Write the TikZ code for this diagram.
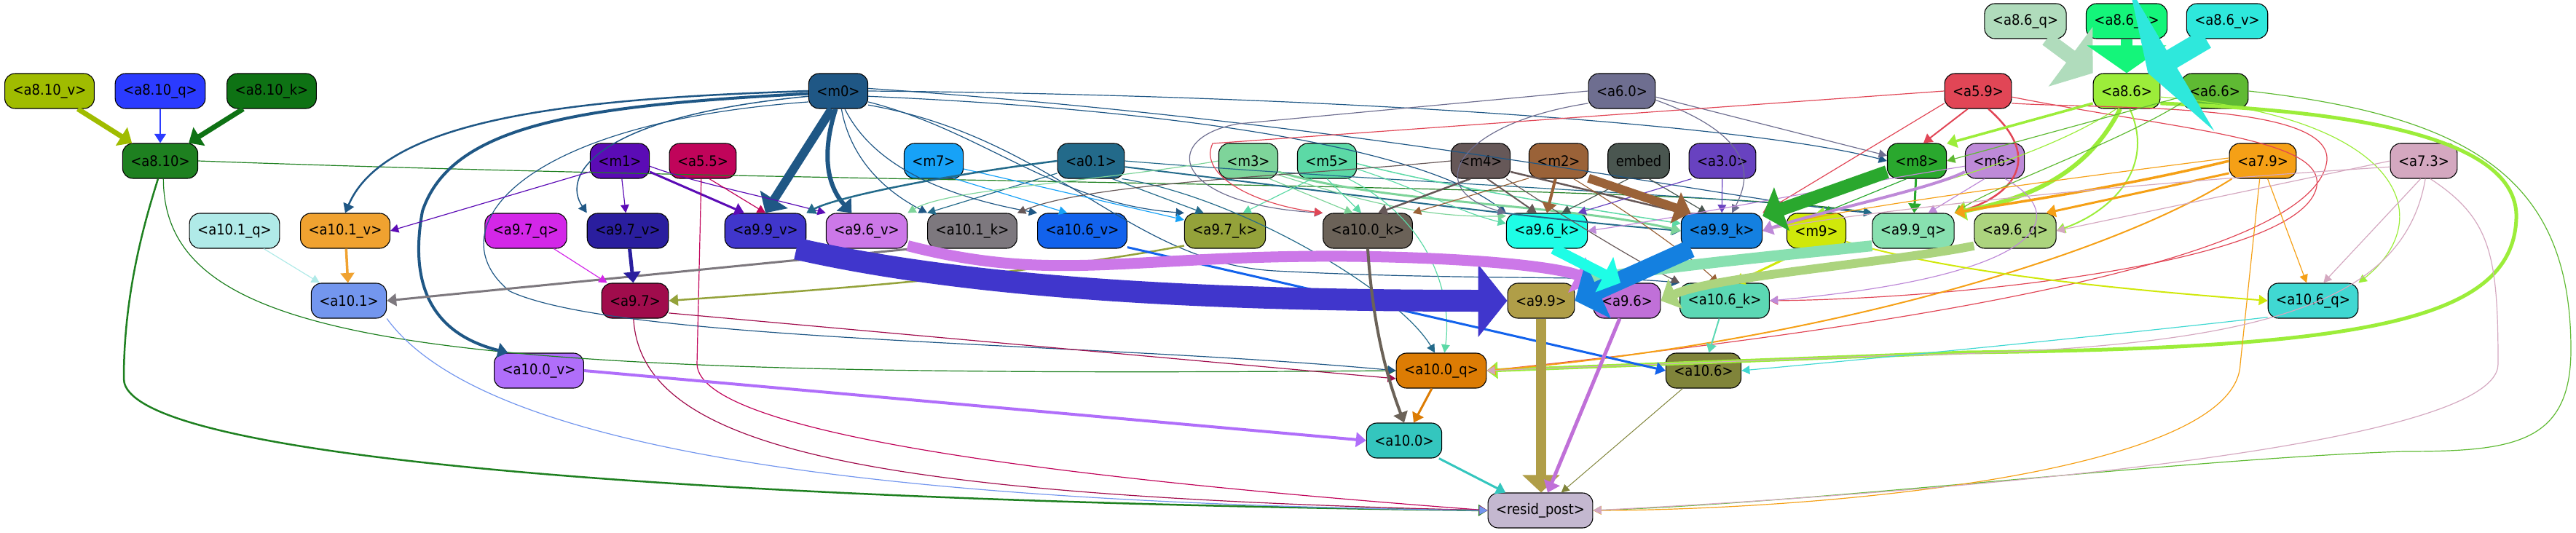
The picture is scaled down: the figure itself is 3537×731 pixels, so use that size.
\documentclass[tikz,border=0pt]{standalone}
\usepackage{fontspec}
\setmainfont{DejaVu Sans Condensed}
\usetikzlibrary{arrows.meta}
\definecolor{ca86q}{HTML}{B0DCBC}
\definecolor{ca86k}{HTML}{14F57A}
\definecolor{ca86v}{HTML}{2EE8DC}
\definecolor{ca810v}{HTML}{A0BC00}
\definecolor{ca810q}{HTML}{2B3BFF}
\definecolor{ca810k}{HTML}{0E7214}
\definecolor{ca810}{HTML}{1E8020}
\definecolor{cm0}{HTML}{1F5785}
\definecolor{ca60}{HTML}{6E6E90}
\definecolor{ca59}{HTML}{E14656}
\definecolor{ca86}{HTML}{9CED3A}
\definecolor{ca66}{HTML}{5FBA33}
\definecolor{cm1}{HTML}{5B0BB5}
\definecolor{ca55}{HTML}{C0045A}
\definecolor{cm7}{HTML}{17A2F7}
\definecolor{ca01}{HTML}{236A8A}
\definecolor{cm3}{HTML}{7ED49A}
\definecolor{cm5}{HTML}{5CD9A6}
\definecolor{cm4}{HTML}{665858}
\definecolor{cm2}{HTML}{9A6238}
\definecolor{cembed}{HTML}{4A5650}
\definecolor{ca30}{HTML}{6842C0}
\definecolor{cm8}{HTML}{2AA82E}
\definecolor{cm6}{HTML}{BE8AD8}
\definecolor{ca79}{HTML}{F5A016}
\definecolor{ca73}{HTML}{D4A8C0}
\definecolor{ca101q}{HTML}{B0EAE8}
\definecolor{ca101v}{HTML}{F0A230}
\definecolor{ca97q}{HTML}{D327E8}
\definecolor{ca97v}{HTML}{2A1E9E}
\definecolor{ca99v}{HTML}{4036CC}
\definecolor{ca96v}{HTML}{CC78E8}
\definecolor{ca101k}{HTML}{7D787E}
\definecolor{ca106v}{HTML}{1262EC}
\definecolor{ca97k}{HTML}{94A23A}
\definecolor{ca100k}{HTML}{6B6258}
\definecolor{ca96k}{HTML}{1EFDE6}
\definecolor{ca99k}{HTML}{1480E0}
\definecolor{cm9}{HTML}{D0E80A}
\definecolor{ca99q}{HTML}{88E0B0}
\definecolor{ca96q}{HTML}{ACD47E}
\definecolor{ca101}{HTML}{7396EE}
\definecolor{ca97}{HTML}{A00C4C}
\definecolor{ca99}{HTML}{B09E48}
\definecolor{ca96}{HTML}{C070D8}
\definecolor{ca106k}{HTML}{5CD8B4}
\definecolor{ca106q}{HTML}{40D8D2}
\definecolor{ca100v}{HTML}{B06EFA}
\definecolor{ca100q}{HTML}{DC7C04}
\definecolor{ca106}{HTML}{80843A}
\definecolor{ca100}{HTML}{34C6BE}
\definecolor{cresid}{HTML}{C4B8D0}
\begin{document}
\begin{tikzpicture}[x=1pt,y=-1pt,
  box/.style={draw=black,line width=1.1pt,rounded corners=14pt,minimum height=48pt,inner xsep=11pt,inner ysep=0pt,font=\fontsize{20}{24}\selectfont},
  ed/.style={-{Triangle[length=10pt 1,width=8pt 3]}},
  fat/.style={-{Triangle[length=38pt,width=#1]}}]
\useasboundingbox (0,0) rectangle (3537,731);
\node[box,fill=ca86q] (a86q) at (2781,29) {<a8.6\_q>};
\node[box,fill=ca86k] (a86k) at (2920,29) {<a8.6\_k>};
\node[box,fill=ca86v] (a86v) at (3058,29) {<a8.6\_v>};
\node[box,fill=ca810v] (a810v) at (68,125) {<a8.10\_v>};
\node[box,fill=ca810q] (a810q) at (220,125) {<a8.10\_q>};
\node[box,fill=ca810k] (a810k) at (373,125) {<a8.10\_k>};
\node[box,fill=cm0] (m0) at (1151,125) {<m0>};
\node[box,fill=ca60] (a60) at (2227,125) {<a6.0>};
\node[box,fill=ca59] (a59) at (2716,125) {<a5.9>};
\node[box,fill=ca86] (a86) at (2920,125) {<a8.6>};
\node[box,fill=ca66] (a66) at (3041,125) {<a6.6>};
\node[box,fill=ca810] (a810) at (220,221) {<a8.10>};
\node[box,fill=cm1] (m1) at (851,221) {<m1>};
\node[box,fill=ca55] (a55) at (965,221) {<a5.5>};
\node[box,fill=cm7] (m7) at (1282,221) {<m7>};
\node[box,fill=ca01] (a01) at (1498,221) {<a0.1>};
\node[box,fill=cm3] (m3) at (1714,221) {<m3>};
\node[box,fill=cm5] (m5) at (1822,221) {<m5>};
\node[box,fill=cm4] (m4) at (2033,221) {<m4>};
\node[box,fill=cm2] (m2) at (2140,221) {<m2>};
\node[box,fill=cembed] (embed) at (2250,221) {embed};
\node[box,fill=ca30] (a30) at (2365,221) {<a3.0>};
\node[box,fill=cm8] (m8) at (2632,221) {<m8>};
\node[box,fill=cm6] (m6) at (2739,221) {<m6>};
\node[box,fill=ca79] (a79) at (3107,221) {<a7.9>};
\node[box,fill=ca73] (a73) at (3328,221) {<a7.3>};
\node[box,fill=ca101q] (a101q) at (322,317) {<a10.1\_q>};
\node[box,fill=ca101v] (a101v) at (474,317) {<a10.1\_v>};
\node[box,fill=ca97q] (a97q) at (722,317) {<a9.7\_q>};
\node[box,fill=ca97v] (a97v) at (862,317) {<a9.7\_v>};
\node[box,fill=ca99v] (a99v) at (1051,317) {<a9.9\_v>};
\node[box,fill=ca96v] (a96v) at (1190,317) {<a9.6\_v>};
\node[box,fill=ca101k] (a101k) at (1335,317) {<a10.1\_k>};
\node[box,fill=ca106v] (a106v) at (1486,317) {<a10.6\_v>};
\node[box,fill=ca97k] (a97k) at (1682,317) {<a9.7\_k>};
\node[box,fill=ca100k] (a100k) at (1878,317) {<a10.0\_k>};
\node[box,fill=ca96k] (a96k) at (2124,317) {<a9.6\_k>};
\node[box,fill=ca99k] (a99k) at (2364,317) {<a9.9\_k>};
\node[box,fill=cm9] (m9) at (2494,317) {<m9>};
\node[box,fill=ca99q] (a99q) at (2627,317) {<a9.9\_q>};
\node[box,fill=ca96q] (a96q) at (2767,317) {<a9.6\_q>};
\node[box,fill=ca101] (a101) at (479,413) {<a10.1>};
\node[box,fill=ca97] (a97) at (872,413) {<a9.7>};
\node[box,fill=ca99] (a99) at (2116,413) {<a9.9>};
\node[box,fill=ca96] (a96) at (2234,413) {<a9.6>};
\node[box,fill=ca106k] (a106k) at (2368,413) {<a10.6\_k>};
\node[box,fill=ca106q] (a106q) at (3176,413) {<a10.6\_q>};
\node[box,fill=ca100v] (a100v) at (740,509) {<a10.0\_v>};
\node[box,fill=ca100q] (a100q) at (1979,509) {<a10.0\_q>};
\node[box,fill=ca106] (a106) at (2339,509) {<a10.6>};
\node[box,fill=ca100] (a100) at (1928,605) {<a10.0>};
\node[box,fill=cresid] (resid) at (2115,701) {<resid\_post>};
\draw[ed,draw=ca810v,line width=7pt] (a810v) -- (a810);
\draw[ed,draw=ca810q,line width=2.5pt] (a810q) -- (a810);
\draw[ed,draw=ca810k,line width=7pt] (a810k) -- (a810);
\draw[ed,draw=ca810,line width=2.5pt] (a810.-97) .. controls (200,300) and (170,400) .. (170,520) .. controls (170,640) and (1100,690) .. (resid.west);
\draw[ed,draw=ca810,line width=1.2pt] (a810.-80) .. controls (225,480) and (600,520) .. (a100q.west);
\draw[ed,draw=ca810,line width=1.2pt] (a810.east) .. controls (1200,255) and (2300,250) .. (a99q.north west);
\draw[ed,draw=cm0,line width=4pt] (m0.185) .. controls (800,145) and (620,170) .. (580,290) .. controls (560,400) and (600,460) .. (a100v.150);
\draw[ed,draw=cm0,line width=2.5pt] (m0.180) .. controls (800,135) and (530,160) .. (a101v.north);
\draw[ed,draw=cm0,line width=1.5pt] (m0.190) .. controls (820,160) and (770,240) .. (a97v.north west);
\draw[ed,draw=cm0,line width=1.2pt] (m0.200) .. controls (700,170) and (600,320) .. (700,400) .. controls (850,470) and (1500,470) .. (a100q.west);
\draw[ed,draw=cm0,line width=1.2pt] (m0.-80) .. controls (1170,230) and (1230,270) .. (a101k.north west);
\draw[ed,draw=cm0,line width=1.2pt] (m0.-70) .. controls (1200,230) and (1300,270) .. (a106v.north west);
\draw[ed,draw=cm0,line width=1.2pt] (m0.-20) .. controls (1350,180) and (1450,280) .. (a97k.north west);
\draw[ed,draw=cm0,line width=1.2pt] (m0.-10) .. controls (1600,150) and (1950,200) .. (a96k.north west);
\draw[ed,draw=cm0,line width=1.2pt] (m0.-25) .. controls (1450,190) and (1550,360) .. (1750,372) .. controls (2000,385) and (2200,378) .. (a106k.north west);
\draw[ed,draw=cm0,line width=1.2pt] (m0.east) .. controls (1800,130) and (2400,170) .. (m8.west);
\draw[ed,draw=cm0,line width=1.2pt] (m0.5) .. controls (1900,170) and (2400,280) .. (a99q.north west);
\draw[ed,draw=cm0,line width=12pt] (m0.250) -- (a99v.north);
\draw[ed,draw=cm0,line width=6pt] (m0.262) .. controls (1125,220) and (1140,260) .. (a96v.130);
\draw[ed,draw=cm1,line width=1.2pt] (m1.200) -- (a101v.east);
\draw[ed,draw=cm1,line width=1.2pt] (m1) -- (a97v);
\draw[ed,draw=cm1,line width=3pt] (m1.-20) -- (a99v.140);
\draw[ed,draw=cm1,line width=1.2pt] (m1.-10) .. controls (950,250) and (1050,270) .. (a96v.north west);
\draw[ed,draw=ca55,line width=1.2pt] (a55.-70) -- (a99v.north);
\draw[ed,draw=ca55,line width=1.2pt] (a55.-95) -- (957,500) .. controls (960,600) and (1500,660) .. (resid.west);
\draw[ed,draw=cm7,line width=1.2pt] (m7.-40) -- (a106v.130);
\draw[ed,draw=cm7,line width=1.2pt] (m7.-15) -- (a97k.165);
\draw[ed,draw=ca01,line width=2.5pt] (a01.west) .. controls (1300,240) and (1150,270) .. (a99v.north east);
\draw[ed,draw=ca01,line width=1.2pt] (a01.200) -- (a101k.north west);
\draw[ed,draw=ca01,line width=1.2pt] (a01.-40) -- (a97k.140);
\draw[ed,draw=ca01,line width=2pt] (a01.-10) .. controls (1800,260) and (2100,300) .. (a99k.west);
\draw[ed,draw=ca01,line width=1.2pt] (a01.east) .. controls (1900,250) and (2400,270) .. (a99q.north west);
\draw[ed,draw=ca01,line width=1.2pt] (a01.-30) .. controls (1700,270) and (1920,400) .. (a100q.110);
\draw[ed,draw=cm3,line width=1.2pt] (m3.west) .. controls (1500,250) and (1300,260) .. (a96v.north east);
\draw[ed,draw=cm3,line width=1.2pt] (m3.-40) -- (a100k.130);
\draw[ed,draw=cm3,line width=3pt] (m3.-20) .. controls (1900,280) and (2150,280) .. (a99k.west);
\draw[ed,draw=cm3,line width=1.2pt] (m3.-25) .. controls (1850,270) and (1950,300) .. (a96k.160);
\draw[ed,draw=cm5,line width=1.2pt] (m5.-130) -- (a97k.45);
\draw[ed,draw=cm5,line width=1.2pt] (m5.-90) -- (a100k.110);
\draw[ed,draw=cm5,line width=1.2pt] (m5.-40) .. controls (1960,300) and (1995,400) .. (a100q.80);
\draw[ed,draw=cm5,line width=1.2pt] (m5.-15) .. controls (1950,260) and (2000,290) .. (a96k.170);
\draw[ed,draw=cm5,line width=1.5pt] (m5.-5) .. controls (2000,260) and (2200,290) .. (a99k.170);
\draw[ed,draw=cm4,line width=2.5pt] (m4.-120) -- (a100k.60);
\draw[ed,draw=cm4,line width=2pt] (m4.-70) -- (a96k.120);
\draw[ed,draw=cm4,line width=2.5pt] (m4.-20) -- (a99k.155);
\draw[ed,draw=cm4,line width=1.2pt] (m4.-35) .. controls (2150,300) and (2250,360) .. (a106k.north west);
\draw[ed,draw=cm4,line width=1.2pt] (m4.west) .. controls (1800,240) and (1500,250) .. (a101k.north east);
\draw[ed,draw=cm2,line width=4pt] (m2.-100) -- (a96k.north);
\draw[ed,draw=cm2,line width=1.2pt] (m2.-150) -- (a100k.north east);
\draw[ed,draw=cm2,line width=1.2pt] (m2.-50) .. controls (2250,300) and (2330,360) .. (a106k.110);
\draw[ed,draw=cembed,line width=1.2pt] (embed.-120) -- (a96k.50);
\draw[ed,draw=cembed,line width=1.2pt] (embed.-60) -- (a99k.130);
\draw[ed,draw=ca30,line width=1.2pt] (a30.-150) -- (a96k.30);
\draw[ed,draw=ca30,line width=1.2pt] (a30) -- (a99k);
\draw[ed,draw=ca60,line width=1.2pt] (a60.-10) -- (m8.170);
\draw[ed,draw=ca60,line width=1.2pt] (a60.-15) .. controls (2420,190) and (2400,250) .. (a99k.60);
\draw[ed,draw=ca60,line width=1.2pt] (a60.200) .. controls (2000,170) and (1950,260) .. (a96k.north west);
\draw[ed,draw=ca60,line width=1.2pt] (a60.west) -- (1700,170) .. controls (1590,190) and (1610,280) .. (a100k.north west);
\draw[ed,draw=ca59,line width=2pt] (a59.-120) -- (m8.70);
\draw[ed,draw=ca59,line width=2.5pt] (a59.-60) .. controls (2810,220) and (2760,270) .. (a99q.north east);
\draw[ed,draw=ca59,line width=1.2pt] (a59.200) -- (a99k.north east);
\draw[ed,draw=ca59,line width=1.2pt] (a59.west) -- (1665,197) .. controls (1645,240) and (1720,280) .. (a100k.north west);
\draw[ed,draw=ca59,line width=1.2pt] (a59.-10) .. controls (3000,180) and (3200,190) .. (3180,260) .. controls (3150,360) and (2700,410) .. (a106k.east);
\draw[ed,draw=ca59,line width=1.2pt] (a59.-20) .. controls (2900,150) and (3200,140) .. (3195,220) .. controls (3180,360) and (2600,450) .. (a100q.east);
\draw[ed,draw=ca86,line width=3.5pt] (a86.200) -- (m8.30);
\draw[ed,draw=ca86,line width=6pt] (a86.-110) .. controls (2870,230) and (2800,270) .. (a99q.north east);
\draw[ed,draw=ca86,line width=2pt] (a86.-80) .. controls (2960,230) and (2900,290) .. (a96q.east);
\draw[ed,draw=ca86,line width=1.2pt] (a86.-120) .. controls (2800,220) and (2600,270) .. (m9.north);
\draw[ed,draw=ca86,line width=1.2pt] (a86.-10) .. controls (3300,160) and (3350,300) .. (a106q.north east);
\draw[ed,draw=ca86,line width=5pt] (a86.-20) .. controls (3150,150) and (3460,170) .. (3455,300) .. controls (3450,440) and (3250,478) .. (2700,484) -- (a100q.east);
\draw[ed,draw=ca66,line width=1.2pt] (a66.200) .. controls (2900,200) and (2750,250) .. (a99q.north east);
\draw[ed,draw=ca66,line width=1.2pt] (a66.190) -- (m8.east);
\draw[ed,draw=ca66,line width=1.2pt] (a66.east) .. controls (3400,160) and (3530,250) .. (3530,480) .. controls (3530,610) and (3450,620) .. (3300,620) .. controls (3000,630) and (2500,690) .. (resid.east);
\draw[ed,draw=cm8,line width=3pt] (m8) -- (a99q);
\draw[ed,draw=cm8,line width=1.2pt] (m8.240) -- (m9.70);
\draw[ed,draw=cm6,line width=1.2pt] (m6.-120) -- (a99q.50);
\draw[ed,draw=cm6,line width=1.2pt] (m6.190) .. controls (2500,260) and (2300,300) .. (a96k.east);
\draw[ed,draw=cm6,line width=1.2pt] (m6.-60) .. controls (2850,300) and (2800,380) .. (a106k.east);
\draw[ed,draw=ca79,line width=3.5pt] (a79.west) .. controls (2900,260) and (2750,280) .. (a99q.north east);
\draw[ed,draw=ca79,line width=3pt] (a79.200) -- (a96q.30);
\draw[ed,draw=ca79,line width=1.2pt] (a79.175) .. controls (2800,250) and (2500,290) .. (a99k.east);
\draw[ed,draw=ca79,line width=2pt] (a79.-150) .. controls (2900,350) and (2500,470) .. (a100q.east);
\draw[ed,draw=ca79,line width=1.2pt] (a79.-75) -- (a106q.110);
\draw[ed,draw=ca79,line width=1.2pt] (a79.-100) -- (3076,500) .. controls (3070,650) and (2500,700) .. (resid.east);
\draw[ed,draw=ca73,line width=1.2pt] (a73.west) -- (a96q.east);
\draw[ed,draw=ca73,line width=1.2pt] (a73.190) .. controls (2800,260) and (2500,300) .. (a99k.east);
\draw[ed,draw=ca73,line width=1.2pt] (a73.-100) -- (a106q.60);
\draw[ed,draw=ca73,line width=1.2pt] (a73.-85) .. controls (3300,420) and (3100,480) .. (2600,488) -- (a100q.east);
\draw[ed,draw=ca73,line width=1.2pt] (a73.-70) .. controls (3420,300) and (3430,350) .. (3430,500) .. controls (3430,620) and (2600,680) .. (resid.east);
\draw[ed,draw=cm6,line width=4pt] (m6.200) .. controls (2650,260) and (2500,290) .. (a99k.east);
\draw[ed,draw=cm8,line width=18pt] (m8.200) -- (a99k.20);
\draw[ed,draw=cm2,line width=12pt] (m2.-30) -- (a99k.150);
\draw[fat=100pt,draw=ca86q,line width=20pt] (a86q.-40) -- (a86.north west);
\draw[fat=107pt,draw=ca86k,line width=16pt] (a86k) -- (a86);
\draw[fat=228pt,draw=ca86v,line width=28pt] (a86v.-140) -- (a86.40);
\draw[ed,draw=ca101q,line width=1.2pt] (a101q) -- (a101);
\draw[ed,draw=ca101v,line width=3.5pt] (a101v) -- (a101);
\draw[ed,draw=ca101k,line width=3pt] (a101k.200) -- (a101.east);
\draw[ed,draw=ca97q,line width=1.2pt] (a97q) -- (a97);
\draw[ed,draw=ca97v,line width=5pt] (a97v) -- (a97);
\draw[ed,draw=ca97k,line width=2.5pt] (a97k.-160) .. controls (1400,380) and (1100,400) .. (a97.east);
\draw[ed,draw=ca106v,line width=3pt] (a106v.-20) -- (a106.west);
\draw[ed,draw=cm9,line width=3pt] (m9.-120) -- (a106k.60);
\draw[ed,draw=cm9,line width=2pt] (m9.-20) .. controls (2700,380) and (2950,400) .. (a106q.west);
\draw[ed,draw=ca99v,line width=30pt] (a99v.-30) .. controls (1350,400) and (1700,413) .. (a99.west);
\draw[ed,draw=ca99q,line width=15pt] (a99q.-160) .. controls (2450,350) and (2250,370) .. (a99.north east);
\draw[ed,draw=ca96q,line width=12pt] (a96q.-160) .. controls (2600,360) and (2350,380) .. (a96.east);
\draw[ed,draw=ca96v,line width=15pt] (a96v.-20) .. controls (1450,390) and (1550,350) .. (1850,352) .. controls (2050,354) and (2150,370) .. (a96.north west);
\draw[ed,draw=ca99k,line width=25pt] (a99k.-150) -- (a99.east);
\draw[ed,draw=ca96k,line width=15pt] (a96k.-70) -- (a96.110);
\draw[ed,draw=ca106k,line width=2pt] (a106k) -- (a106);
\draw[ed,draw=ca106q,line width=1.2pt] (a106q.200) .. controls (2900,460) and (2600,490) .. (a106.east);
\draw[ed,draw=ca97,line width=1.2pt] (a97.-20) -- (a100q.190);
\draw[ed,draw=ca97,line width=1.2pt] (a97.-95) .. controls (880,620) and (1200,680) .. (resid.west);
\draw[ed,draw=ca101,line width=1.2pt] (a101.south east) .. controls (650,600) and (1100,690) .. (resid.west);
\draw[ed,draw=ca100v,line width=4pt] (a100v.east) -- (a100.west);
\draw[ed,draw=ca100k,line width=4pt] (a100k.south) .. controls (1885,450) and (1905,520) .. (a100.north);
\draw[ed,draw=ca100q,line width=3pt] (a100q) -- (a100);
\draw[ed,draw=ca100,line width=3pt] (a100) -- (resid);
\draw[ed,draw=ca99,line width=14pt] (a99) -- (a99 |- resid.north);
\draw[ed,draw=ca96,line width=5pt] (a96) -- (resid);
\draw[ed,draw=ca106,line width=1pt] (a106) -- (resid);
\end{tikzpicture}
\end{document}
